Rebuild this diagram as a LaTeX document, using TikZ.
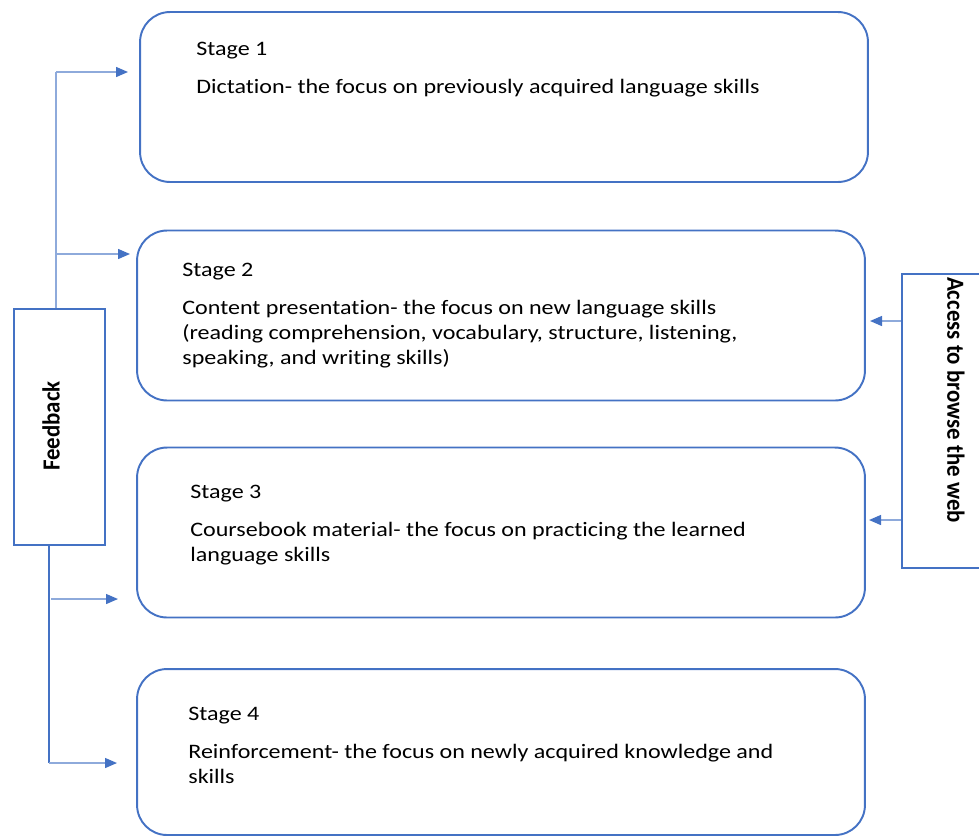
\documentclass[tikz,border=0pt]{standalone}
\usepackage{fontspec}
\setmainfont{Carlito}
\newfontfamily\bodyfont[FakeStretch=1.17, Ligatures=NoCommon]{Carlito}
\newfontfamily\sidefont[FakeStretch=0.93, Ligatures=NoCommon]{Carlito}
\usetikzlibrary{arrows.meta,calc}
\definecolor{boxblue}{HTML}{4472C4}
\definecolor{linkblue}{HTML}{8EAADB}
\tikzset{
  stagebox/.style={draw=boxblue, line width=1.1pt, rounded corners=0.6cm,
                   minimum width=14.56cm, minimum height=3.4cm, inner sep=0pt},
  stagetext/.style={anchor=north west, inner sep=0pt, align=left,
                    font=\bodyfont\fontsize{11.7}{14.2}\selectfont},
  sidebox/.style={draw=boxblue, line width=1pt, inner sep=0pt},
  sidetext/.style={inner sep=0pt, font=\sidefont\fontsize{14}{16}\selectfont\bfseries},
  wire/.style={draw=linkblue, line width=0.8pt},
  link/.style={wire, -{Triangle[length=0.24cm, width=0.2cm, color=boxblue]}},
}
\begin{document}
\begin{tikzpicture}[x=0.02cm, y=-0.02cm]
        \useasboundingbox (0,0) rectangle (979,836);                         %page
        \node [stagebox] (s1) at (504,97)    {};                              %Stage 1
        \node [stagebox] (s2) at (501,315.5) {};                              %Stage 2
        \node [stagebox] (s3) at (501,532.5) {};                              %Stage 3
        \node [stagebox, minimum height=3.32cm] (s4) at (501,752) {};         %Stage 4
        \node [stagetext] (t1) at (196,42)  {Stage 1\\[0.26cm]
              Dictation- the focus on previously acquired language skills};
        \node [stagetext] (t2) at (182,263) {Stage 2\\[0.26cm]
              Content presentation- the focus on new language skills\\
              (reading comprehension, vocabulary, structure, listening,\\
              speaking, and writing skills)};
        \node [stagetext] (t3) at (190,485) {Stage 3\\[0.26cm]
              Coursebook material- the focus on practicing the learned\\
              language skills};
        \node [stagetext] (t4) at (188,707) {Stage 4\\[0.26cm]
              Reinforcement- the focus on newly acquired knowledge and\\
              skills};
        \node [sidebox, minimum width=1.82cm, minimum height=4.72cm]
              (fb) at (59.5,427) {};                                          %feedback
        \node [sidetext, rotate=90]  (fbtext)  at (51,426)  {Feedback};       %
        \node [sidebox, minimum width=1.76cm, minimum height=5.88cm]
              (web) at (946,421) {};                                          %web
        \node [sidetext, rotate=-90] (webtext) at (956,400) {Access to browse the web};
        %arrow ends
        \coordinate (k1) at (56,72);
        \coordinate (e1) at (128,72);
        \coordinate (e2) at (130,254);
        \coordinate (k2) at (49,763);
        \coordinate (e3) at (118,599);
        \coordinate (e4) at (117,763);
        \coordinate (r1) at (870,321);
        \coordinate (r2) at (869,520);
        \draw [wire] (fb.north -| k1) -- (k1);                                %up
        \draw [link] (k1) -- (e1);                                            %to 1
        \draw [link] (k1 |- e2) -- (e2);                                      %to 2
        \draw [wire, draw=boxblue, line width=0.6pt] (fb.south -| k2) -- (k2);%down
        \draw [link] ($(k2 |- e3)+(2,0)$) -- (e3);                            %to 3
        \draw [link] (k2) -- (e4);                                            %to 4
        \draw [link] (web.west |- r1) -- (r1);                                %web to 2
        \draw [link] (web.west |- r2) -- (r2);                                %web to 3
\end{tikzpicture}
\end{document}
